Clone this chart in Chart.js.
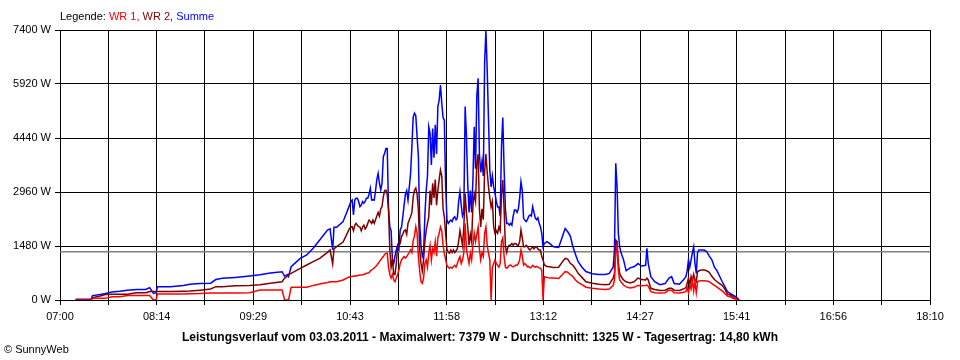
<!DOCTYPE html>
<html>
<head>
<meta charset="utf-8">
<script src="https://cdn.jsdelivr.net/npm/chart.js@4.4.1/dist/chart.umd.min.js"></script>
<style>
body{margin:0;background:#fff;font-family:"Liberation Sans",Arial,sans-serif;}
#wrap{position:relative;width:960px;height:360px;overflow:hidden;}
canvas{position:absolute;left:0;top:0;}
.txt{position:absolute;white-space:nowrap;font-size:11px;line-height:1;color:#000;}
#legende{left:60px;top:11px;}
#titel{left:0;width:960px;text-align:center;top:331px;font-weight:bold;font-size:12px;}
#copy{left:4px;top:344px;}
</style>
</head>
<body>
<div id="wrap">
  <canvas id="c" width="960" height="360"></canvas>
  <div id="legende" class="txt">Legende: <span style="color:#ff0000">WR 1,</span> <span style="color:#800000">WR 2,</span> <span style="color:#0000ff">Summe</span></div>
  <div id="titel" class="txt">Leistungsverlauf vom 03.03.2011 - Maximalwert: 7379 W - Durchschnitt: 1325 W - Tagesertrag: 14,80 kWh</div>
  <div id="copy" class="txt">© SunnyWeb</div>
</div>
<script>
/* Messzeitpunkte (hh:mm) */
const zeiten = [
  '07:12','07:24','07:25','07:31','07:35','07:40','07:46','07:52','07:59','08:06',
  '08:09','08:12','08:14','08:15','08:25','08:35','08:40','08:48','08:56','09:00',
  '09:05','09:15','09:26','09:34','09:42','09:51','09:53','09:55','09:56','09:58',
  '10:05','10:10','10:15','10:20','10:26','10:28','10:30','10:31','10:33','10:38',
  '10:43','10:44','10:45','10:46','10:47','10:48','10:49','10:50','10:51','10:52',
  '10:53','10:54','10:55','10:56','10:57','10:58','10:59','11:00','11:01','11:02',
  '11:03','11:04','11:05','11:06','11:07','11:08','11:09','11:10','11:11','11:12',
  '11:13','11:14','11:15','11:16','11:17','11:18','11:19','11:20','11:21','11:22',
  '11:23','11:24','11:25','11:26','11:27','11:28','11:29','11:30','11:31','11:32',
  '11:33','11:34','11:35','11:36','11:37','11:38','11:39','11:40','11:41','11:42',
  '11:43','11:44','11:45','11:46','11:47','11:48','11:49','11:50','11:51','11:52',
  '11:53','11:54','11:55','11:56','11:57','11:58','11:59','12:00','12:01','12:02',
  '12:03','12:04','12:05','12:06','12:07','12:08','12:09','12:10','12:11','12:12',
  '12:13','12:14','12:15','12:16','12:17','12:18','12:19','12:20','12:21','12:22',
  '12:23','12:24','12:25','12:26','12:27','12:28','12:29','12:30','12:31','12:32',
  '12:33','12:34','12:35','12:36','12:37','12:38','12:39','12:40','12:41','12:42',
  '12:43','12:44','12:45','12:46','12:47','12:48','12:49','12:50','12:51','12:52',
  '12:53','12:54','12:55','12:56','12:57','12:58','12:59','13:00','13:01','13:02',
  '13:03','13:04','13:05','13:06','13:07','13:08','13:09','13:10','13:11','13:12',
  '13:13',
  '13:15','13:17','13:20','13:24','13:27','13:29','13:31','13:33','13:35','13:37',
  '13:39','13:42','13:45','13:50','13:55','14:00','14:03','14:06','14:07','14:08',
  '14:09','14:10','14:11','14:12','14:14','14:16','14:19','14:22','14:24','14:25',
  '14:28','14:31','14:32','14:33','14:35','14:38','14:42','14:46','14:49','14:51',
  '14:53','14:57','15:00','15:02','15:03','15:04','15:05','15:06','15:07','15:08',
  '15:09','15:10','15:11','15:12','15:14','15:16','15:18','15:20','15:22','15:24',
  '15:26','15:28','15:30','15:32','15:34','15:36','15:38','15:40','15:42','15:43'
];

/* Leistung in W */
const wr1 = [
  0,0,45,45,45,90,90,120,120,120,
  120,0,0,165,165,165,170,175,190,190,
  190,190,200,274,274,274,0,0,0,347,
  347,347,400,438,480,500,500,502,502,548,
  640,640,650,650,660,660,670,670,685,685,
  690,700,720,730,730,750,800,822,850,880,
  910,950,1000,1050,1100,1150,1190,1250,1280,1280,
  900,700,600,700,550,500,600,700,820,1000,
  1100,1150,1190,1150,1190,1250,1300,1370,1300,1640,
  1750,2010,1830,1190,800,500,457,600,1000,1100,
  900,1280,1500,1100,1400,1300,1600,1200,1700,1830,
  2000,1900,1500,1280,1100,950,900,870,900,870,
  920,950,900,1000,1100,1190,1000,1100,1300,2100,
  1400,1190,1000,1280,1100,1500,1830,1600,1800,2000,
  1400,1100,1300,1200,1830,2000,1500,1280,1100,0,
  900,1000,1100,1000,950,900,1000,1600,1700,1200,
  900,870,900,950,960,930,910,930,960,950,
  1000,1100,1370,1200,960,1000,960,910,920,880,
  900,950,920,900,920,900,880,870,820,0,
  640,
  620,600,600,590,700,780,760,700,640,550,
  480,420,350,320,300,290,300,400,540,1300,
  1460,800,550,500,410,360,330,350,380,400,
  390,400,410,380,230,200,190,200,275,260,
  200,190,210,230,350,200,400,300,550,250,
  500,200,500,520,530,530,520,500,450,400,
  350,300,250,180,110,90,45,30,0,0
];
const wr2 = [
  0,0,65,110,150,155,160,160,200,200,
  235,235,235,235,235,240,245,270,300,365,
  365,393,400,420,457,500,600,650,700,731,
  868,959,1050,1142,1306,1370,987,1400,1461,1590,
  1960,2000,2010,1900,2050,2100,2050,2010,2000,1900,
  2000,2050,1950,2000,2100,2190,2150,2100,2190,2100,
  2200,2300,2400,2300,2500,2560,2830,3000,3010,2900,
  2466,1370,900,1100,700,700,1000,1460,1500,1550,
  1740,1800,1900,1920,1800,2100,2200,2280,2400,2830,
  3010,3070,2900,2466,1370,1000,800,1100,1600,1900,
  2100,2280,3000,2600,3200,2800,3300,2600,3000,3300,
  3560,3400,2500,2280,1800,1400,1300,1280,1370,1300,
  1370,1300,1350,1400,1600,1900,1700,1500,2000,2920,
  2400,2000,1500,1800,1600,2600,2900,2700,3750,4000,
  2500,2000,2500,2200,3500,4000,3500,3100,2800,2550,
  2700,2000,1830,1900,1830,2000,1900,2900,3290,2500,
  1460,1300,1460,1500,1500,1550,1500,1550,1550,1500,
  1500,1600,1918,1700,1460,1460,1500,1460,1400,1370,
  1415,1460,1400,1450,1460,1400,1370,1370,1190,1100,
  960,
  920,910,890,900,1050,1140,1120,1005,950,850,
  730,620,500,460,430,420,430,600,730,1644,
  1600,1000,730,650,550,500,470,500,560,600,
  560,550,600,550,320,290,260,270,320,320,
  270,260,300,340,460,600,400,640,500,700,
  550,500,780,800,820,820,800,760,650,560,
  500,450,400,300,160,140,90,50,20,0
];
const summe = [
  20,20,120,150,180,220,240,265,290,290,
  340,180,200,365,365,400,430,450,460,560,
  594,620,657,690,740,776,650,700,640,913,
  1142,1233,1416,1644,1918,1950,1370,1991,1991,2147,
  2600,2700,2740,2330,2740,2790,2790,2700,2560,2600,
  2700,2650,2700,2790,2790,2900,3060,2740,2750,2740,
  3000,3300,3470,3200,3020,3200,3930,4020,4150,4150,
  2500,2000,1900,1100,1000,1200,1370,1500,1400,1920,
  2000,2280,2600,2900,3000,2740,3100,3470,4200,5020,
  5120,5050,4480,3930,2100,1500,1190,1300,2300,3000,
  3400,4750,4570,3700,4700,3900,4800,4000,5300,5480,
  5890,5400,5000,4930,3100,2190,2100,2150,2190,2150,
  2250,2280,2200,2250,2700,2970,2600,2300,2400,5300,
  4500,3200,2400,3000,2400,3300,4750,3600,5600,6075,
  4000,3500,3800,3400,6500,7379,6300,4930,3560,3100,
  3400,3100,2920,2700,2550,2550,2300,4200,5000,3600,
  2500,2100,2100,2050,2100,2050,2300,2466,2466,2400,
  2500,2800,3240,3000,2238,2190,2150,2200,2300,2330,
  2300,2558,2400,2250,2200,2250,2100,2010,1827,1460,
  1550,
  1600,1550,1460,1440,1750,1960,1870,1750,1460,1250,
  1050,900,780,720,700,700,730,900,1370,3745,
  3100,1827,1460,1300,1100,800,880,910,960,1000,
  930,950,1415,1000,640,500,420,450,600,640,
  450,430,550,640,800,1100,900,1096,1300,1460,
  1000,730,1300,1370,1370,1370,1330,1200,1100,900,
  800,650,500,370,230,180,137,100,40,0
];
const durchschnitt = 1325;

const yTicks = [0, 1480, 2960, 4440, 5920, 7400];
const xLabels = ['07:00','08:14','09:29','10:43','11:58','13:12','14:27','15:41','16:56','18:10'];

const minuten = s => { const [h, m] = s.split(':').map(Number); return h * 60 + m; };
const xMin = minuten(xLabels[0]), xMax = minuten(xLabels[xLabels.length - 1]);
const punkte = werte => zeiten.map((z, i) => ({ x: minuten(z), y: werte[i] }));

Chart.defaults.font.family = '"Liberation Sans", Arial, sans-serif';
Chart.defaults.font.size = 11;
Chart.defaults.color = '#000';

new Chart(document.getElementById('c'), {
  type: 'line',
  data: { datasets: [
    { label: 'WR 1', data: punkte(wr1), borderColor: '#ff0000', borderWidth: 1.5 },
    { label: 'WR 2', data: punkte(wr2), borderColor: '#800000', borderWidth: 1.5 },
    { label: 'Summe', data: punkte(summe), borderColor: '#0000ff', borderWidth: 1.5 },
    { label: 'Durchschnitt', data: [{ x: xMin, y: durchschnitt }, { x: xMax, y: durchschnitt }], borderColor: '#808080', borderWidth: 1.5 },
  ]},
  options: {
    responsive: false, animation: false, devicePixelRatio: 1,
    elements: { point: { radius: 0 }, line: { tension: 0, fill: false } },
    layout: { padding: { top: 30, right: 30, left: 0, bottom: 0 } },
    plugins: { legend: { display: false }, tooltip: { enabled: false } },
    scales: {
      x: {
        type: 'linear', min: xMin, max: xMax,
        afterBuildTicks: s => { s.ticks = Array.from({ length: 19 }, (_, i) => ({ value: xMin + i * (xMax - xMin) / 18 })); },
        afterFit: s => { s.height = 60; },
        grid: { color: '#000', lineWidth: 1, tickLength: 5 },
        border: { color: '#000' },
        ticks: { autoSkip: false, maxRotation: 0, padding: 5, callback: (v, i) => i % 2 === 0 ? xLabels[i / 2] : '' }
      },
      y: {
        min: 0, max: 7400,
        afterBuildTicks: s => { s.ticks = yTicks.map(v => ({ value: v })); },
        afterFit: s => { s.width = 60; },
        grid: { color: '#000', lineWidth: 1, tickLength: 5 },
        border: { color: '#000' },
        ticks: { padding: 4, callback: v => v + ' W' }
      }
    }
  }
});
</script>
</body>
</html>
